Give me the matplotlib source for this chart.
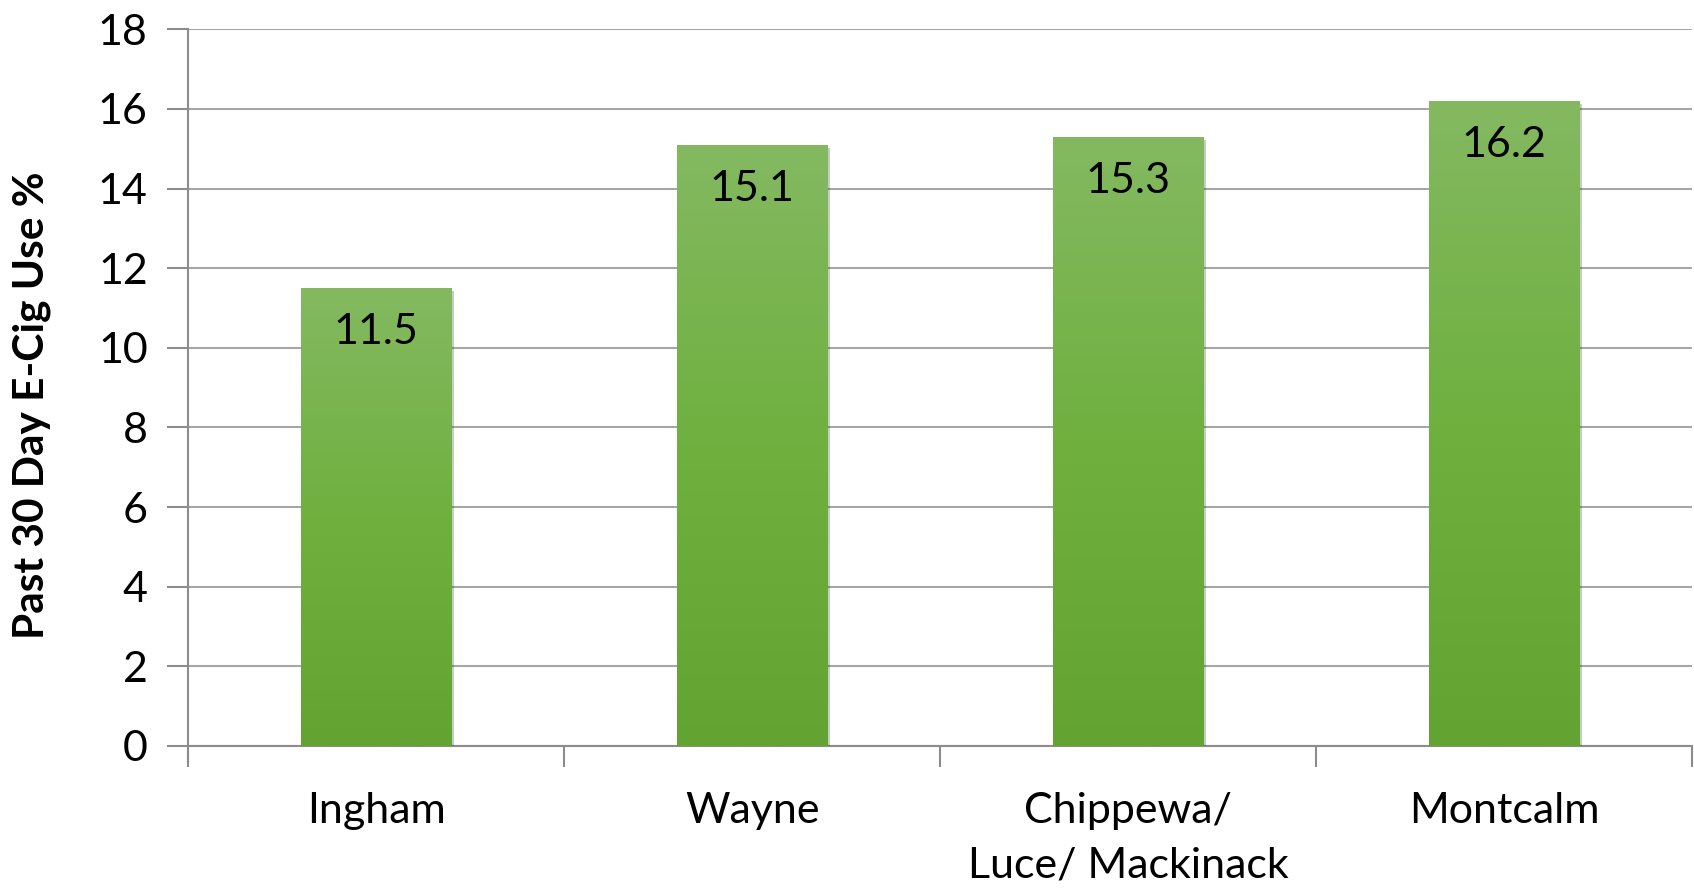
import numpy as np
import matplotlib
matplotlib.use("Agg")
import matplotlib.pyplot as plt
import matplotlib.patheffects as pe
from matplotlib.colors import LinearSegmentedColormap

# Data
counties = ["Ingham", "Wayne", "Chippewa/\nLuce/ Mackinack", "Montcalm"]
ecig_use = [11.5, 15.1, 15.3, 16.2]
y_ticks = [0, 2, 4, 6, 8, 10, 12, 14, 16, 18]

plt.rcParams["font.family"] = ["Lato", "DejaVu Sans"]

fig = plt.figure(figsize=(16.94, 8.89), dpi=100)
ax = fig.add_axes([0.111, 0.161, 0.888, 0.806])

x = np.arange(len(counties))
bars = ax.bar(x, ecig_use, width=0.40, color="#72b043", zorder=3,
              path_effects=[pe.SimplePatchShadow(offset=(2, -2), alpha=0.25), pe.Normal()])

# vertical gradient inside each bar
grad_cmap = LinearSegmentedColormap.from_list("g", ["#62a332", "#6fb03f", "#84b961"])
grad = np.linspace(0, 1, 256).reshape(-1, 1)
for b in bars:
    x0, y0 = b.get_x(), b.get_y()
    w, h = b.get_width(), b.get_height()
    im = ax.imshow(grad, cmap=grad_cmap, origin="lower", aspect="auto",
                   extent=[x0, x0 + w, y0, y0 + h], zorder=4)
    im.set_clip_path(b)

# value labels inside bar tops
for xi, v in zip(x, ecig_use):
    ax.text(xi, v - 1.1, f"{v}", ha="center", va="center", fontsize=31,
            color="black", zorder=5)

ax.set_xlim(-0.5, len(counties) - 0.5)
ax.set_ylim(0, 18)
ax.set_yticks(y_ticks)
ax.set_yticklabels([str(t) for t in y_ticks], fontsize=31)
ax.set_xticks(x)
ax.set_xticklabels(counties, fontsize=31, linespacing=1.55, va="top")
ax.set_xticks(np.arange(-0.5, len(counties)), minor=True)
ax.tick_params(axis="x", which="major", length=0, pad=33)
ax.tick_params(axis="x", which="minor", length=15, width=1.5, color="#8c8c8c", direction="out")
ax.tick_params(axis="y", length=15, width=1.5, color="#8c8c8c", pad=14)

ax.grid(axis="y", color="#a6a6a6", linewidth=1.5, zorder=0)
ax.set_axisbelow(True)
for s in ["top", "right"]:
    ax.spines[s].set_visible(False)
for s in ["left", "bottom"]:
    ax.spines[s].set_color("#8c8c8c")
    ax.spines[s].set_linewidth(1.5)
ax.spines["left"].set_bounds(-0.4, 18)

ax.set_ylabel("Past 30 Day E-Cig Use %", fontsize=30.5, fontweight="bold")
ax.yaxis.set_label_coords(-0.091, 0.476)

fig.savefig("out.png", dpi=100)
